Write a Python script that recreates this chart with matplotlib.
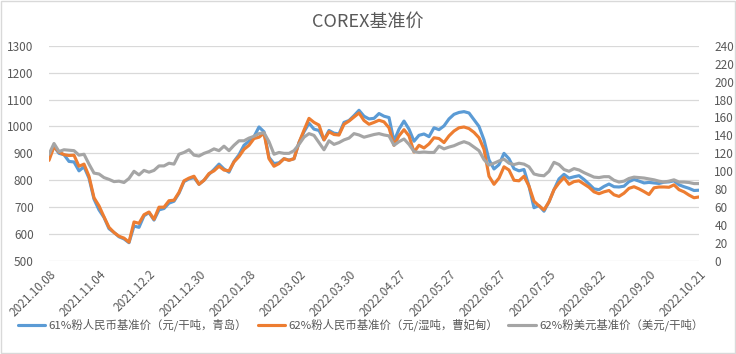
import numpy as np
import matplotlib
matplotlib.use("Agg")
import matplotlib.pyplot as plt
from matplotlib.patches import Rectangle

plt.rcParams['font.family'] = ['Noto Sans CJK SC', 'DejaVu Sans']

# category labels shown on the x axis (every 20th trading day)
tick_labels = ["2021.10.08", "2021.11.04", "2021.12.2", "2021.12.30", "2022.01.28",
               "2022.03.02", "2022.03.30", "2022.04.27", "2022.05.27", "2022.06.27",
               "2022.07.25", "2022.08.22", "2022.09.20", "2022.10.21"]
n_days = 261          # trading days in the category axis
sample_step = 2       # values below are read every 2nd trading day
tick_step = 20

series_names = ["61%粉人民币基准价（元/干吨，青岛）",
                "62%粉人民币基准价（元/湿吨，曹妃甸）",
                "62%粉美元基准价（美元/干吨）"]

# 61% fines RMB (left axis)
blue_vals = [890, 925, 900, 895, 870, 868, 835, 850, 808, 730,
             690, 662, 620, 606, 590, 582, 568, 630, 625, 668,
             680, 652, 690, 695, 715, 722, 752, 795, 805, 810,
             785, 800, 822, 840, 860, 842, 830, 870, 895, 930,
             945, 962, 998, 980, 885, 862, 865, 880, 875, 880,
             940, 980, 1012, 990, 985, 950, 985, 975, 972, 1015,
             1022, 1040, 1060, 1038, 1028, 1030, 1048, 1038, 1033, 945,
             990, 1020, 990, 945, 967, 972, 962, 995, 988, 1002,
             1028, 1045, 1052, 1055, 1050, 1025, 1000, 950, 876, 842,
             858, 900, 880, 843, 835, 840, 778, 698, 706, 685,
             720, 765, 805, 822, 808, 813, 817, 803, 786, 768,
             765, 777, 786, 776, 775, 778, 795, 803, 797, 790,
             792, 790, 788, 793, 794, 798, 783, 776, 770, 762,
             763]

# 62% fines RMB wet (left axis)
orange_vals = [874, 925, 905, 895, 892, 893, 852, 860, 815, 735,
               705, 664, 625, 606, 592, 585, 570, 645, 640, 672,
               682, 655, 700, 700, 724, 726, 755, 798, 808, 815,
               785, 800, 825, 835, 852, 838, 835, 868, 888, 915,
               930, 955, 960, 975, 880, 852, 862, 880, 874, 880,
               940, 986, 1030, 1015, 1005, 950, 980, 970, 968, 1008,
               1020, 1035, 1050, 1022, 1008, 1015, 1023, 1017, 995, 930,
               965, 988, 965, 905, 930, 920, 935, 958, 955, 940,
               965, 983, 995, 998, 992, 978, 958, 915, 815, 785,
               808, 850, 838, 800, 798, 815, 778, 722, 705, 690,
               720, 765, 790, 810, 785, 795, 798, 786, 774, 757,
               750, 757, 762, 746, 740, 752, 770, 776, 768, 758,
               747, 772, 775, 775, 774, 783, 765, 757, 745, 735,
               738]

# 62% fines USD (right axis)
grey_vals = [119, 131, 122, 124, 123.5, 123, 118, 119, 108, 98,
             97, 93, 91, 88.5, 89, 87.5, 92, 100, 96, 101,
             99, 101, 106, 106, 109, 108, 119, 121, 124, 118,
             117, 120, 122, 125, 123, 128, 123, 129, 134, 134,
             137, 139, 142, 143, 133, 119, 121, 120, 120, 123,
             130, 138, 142, 140, 132, 124, 134, 130, 132, 135,
             137, 142, 140.5, 138, 139.5, 141, 142, 140.5, 139.5, 129,
             133, 136, 130, 122, 121, 121.5, 121, 121, 128, 125,
             127, 128.5, 131, 133, 131, 127, 123, 113, 107, 109,
             111.5, 113.5, 109, 107.5, 109, 108, 105, 97, 95.6, 95,
             100, 110, 107.5, 102, 100, 103, 101.5, 98.5, 96, 93.5,
             93, 94, 94, 90, 88, 89, 92, 93.5, 93, 92.5,
             91.5, 90.5, 89, 88, 89, 90.5, 88, 88, 87.5, 86.3,
             86.3]

x = np.arange(0, n_days, sample_step)
n = min(len(x), len(blue_vals), len(orange_vals), len(grey_vals))
x = x[:n]

c_blue, c_orange, c_grey = "#5B9BD5", "#ED7D31", "#A5A5A5"
txt = "#595959"

fig = plt.figure(figsize=(7.36, 3.54), dpi=100)
fig.patches.append(Rectangle((0.001, 0.002), 0.997, 0.995, transform=fig.transFigure,
                             fill=False, edgecolor="#D9D9D9", linewidth=1.0))
ax = fig.add_axes([49/736, 1-261/354, 650/736, (261-45.7)/354])
ax2 = ax.twinx()

lw = 2.25
kw = dict(solid_joinstyle='round', solid_capstyle='round')
l1, = ax.plot(x, blue_vals[:n], color=c_blue, lw=lw, **kw)
l2, = ax.plot(x, orange_vals[:n], color=c_orange, lw=lw, **kw)
l3, = ax2.plot(x, grey_vals[:n], color=c_grey, lw=lw, **kw)

ax.set_xlim(0, n_days - 1)
ax.set_ylim(500, 1300)
ax.set_yticks(np.arange(500, 1301, 100))
ax2.set_ylim(0, 240)
ax2.set_yticks(np.arange(0, 241, 20))
ax.set_xticks(np.arange(0, n_days, tick_step))
ax.set_xticklabels(tick_labels, rotation=45, ha='right', rotation_mode='anchor')

ax.grid(axis='y', color="#D9D9D9", linewidth=0.9)
ax.set_axisbelow(True)
for a in (ax, ax2):
    for s in a.spines.values():
        s.set_visible(False)
    a.tick_params(length=0, colors=txt, labelsize=8.5)
ax.tick_params(axis='y', pad=11)
ax2.tick_params(axis='y', pad=11)
ax.tick_params(axis='x', pad=5)

fig.text(0.5, 1-22/354, "COREX基准价", ha='center', va='center', fontsize=13, color=txt)

fig.legend([l1, l2, l3], series_names, loc='center', bbox_to_anchor=(0.49, 1-325/354),
           ncol=3, frameon=False, fontsize=8.2, labelcolor=txt, handlelength=2.4,
           handletextpad=0.3, columnspacing=0.9)

fig.savefig("out.png", dpi=100)
